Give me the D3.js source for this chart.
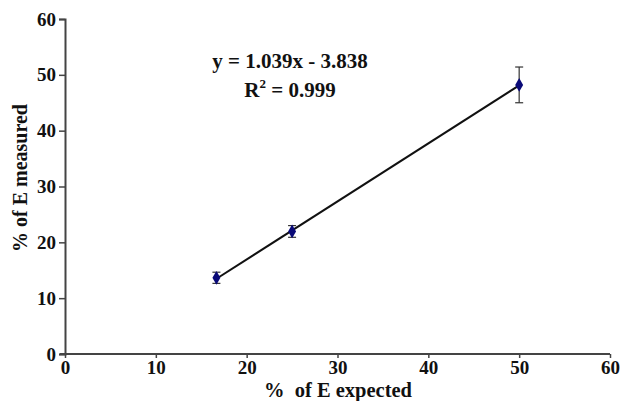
<!DOCTYPE html>
<html><head><meta charset="utf-8">
<script src="https://cdn.jsdelivr.net/npm/d3@7"></script>
<style>body{margin:0;background:#fff}svg{display:block}text{font-family:"Liberation Serif","Times New Roman",serif;font-weight:bold}</style>
</head><body>
<script>
const xExpected = [16.67, 25, 50];
const yMeasured = [13.65, 21.95, 48.2];
const yErr = [1.0, 1.05, 3.2];
const xTicks = [0, 10, 20, 30, 40, 50, 60];
const yTicks = [0, 10, 20, 30, 40, 50, 60];
const slope = 1.039, intercept = -3.838;

const W = 621, H = 401;
const svg = d3.select("body").append("svg").attr("width", W).attr("height", H);
const x = d3.scaleLinear().domain([0, 60]).range([65, 610]);
const y = d3.scaleLinear().domain([0, 60]).range([354, 19]);
const axisCol = "#444";

const gx = svg.append("g").attr("transform", `translate(0,${y(0)})`)
  .call(d3.axisBottom(x).tickValues(xTicks).tickSize(4).tickPadding(2.5).tickFormat(d3.format("d")));
const gy = svg.append("g").attr("transform", `translate(${x(0)},0)`)
  .call(d3.axisLeft(y).tickValues(yTicks).tickSize(6).tickPadding(3).tickFormat(d3.format("d")));
[gx, gy].forEach(g => {
  g.select(".domain").attr("stroke", axisCol).attr("stroke-width", 2);
  g.selectAll(".tick line").attr("stroke", axisCol).attr("stroke-width", 1.5);
  g.selectAll(".tick text").attr("fill", "#111").style("font-size", "19px");
});
gx.select(".domain").attr("d", `M${x(0)-5},0H${x(60)}`);

// regression line
const x0 = xExpected[0], x1 = xExpected[xExpected.length - 1];
svg.append("line")
  .attr("x1", x(x0)).attr("y1", y(slope * x0 + intercept))
  .attr("x2", x(x1)).attr("y2", y(slope * x1 + intercept))
  .attr("stroke", "#111").attr("stroke-width", 2);

// error bars
const eb = svg.append("g").attr("stroke", "#333").attr("stroke-width", 1.2);
xExpected.forEach((xv, i) => {
  const top = y(yMeasured[i] + yErr[i]), bot = y(yMeasured[i] - yErr[i]), cx = x(xv);
  eb.append("line").attr("x1", cx).attr("x2", cx).attr("y1", top).attr("y2", bot);
  eb.append("line").attr("x1", cx - 4).attr("x2", cx + 4).attr("y1", top).attr("y2", top);
  eb.append("line").attr("x1", cx - 4).attr("x2", cx + 4).attr("y1", bot).attr("y2", bot);
});

// diamond markers
svg.append("g").selectAll("path").data(xExpected).join("path")
  .attr("transform", (d, i) => `translate(${x(d)},${y(yMeasured[i])})`)
  .attr("d", d3.symbol(d3.symbolDiamond, 55))
  .attr("fill", "#0a0a78");

// equation
svg.append("text").attr("x", 290).attr("y", 68).attr("text-anchor", "middle")
  .style("font-size", "21px").attr("fill", "#111").text("y = 1.039x - 3.838");
const r2 = svg.append("text").attr("x", 290).attr("y", 97).attr("text-anchor", "middle")
  .style("font-size", "21px").attr("fill", "#111");
r2.append("tspan").text("R");
r2.append("tspan").attr("dy", -9).style("font-size", "13px").text("2");
r2.append("tspan").attr("dy", 9).text(" = 0.999");

// axis titles
svg.append("text").attr("x", 338).attr("y", 396.5).attr("text-anchor", "middle")
  .style("font-size", "20.5px").style("white-space", "pre").attr("fill", "#111").text("%  of E expected");
svg.append("text").attr("transform", `translate(27,${178}) rotate(-90)`).attr("text-anchor", "middle")
  .style("font-size", "20px").attr("fill", "#111").text("% of E measured");
</script>
</body></html>
